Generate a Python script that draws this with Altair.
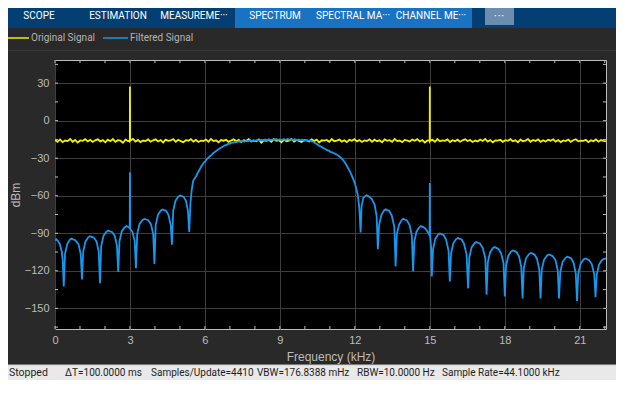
import altair as alt
import numpy as np
import pandas as pd

# ---------------- data ----------------
X_DOMAIN = [0, 22.05]
Y_DOMAIN = [-166.5, 48.5]
x_major = [0, 3, 6, 9, 12, 15, 18, 21]
y_major = [-150, -120, -90, -60, -30, 0, 30]
x_minor = list(range(0, 23))
y_minor = [-165, -150, -135, -120, -105, -90, -75, -60, -45, -30, -15, 0, 15, 30, 45]

# Original signal: noise floor (dBm) sampled across the band
orig_db = [
    -15.6, -16.9, -15.0, -17.2, -15.9, -16.3, -14.6, -16.8, -15.4, -17.5, -15.8, -16.1, -14.8, -16.6, -15.3, -17.0, -15.7, -14.9, -16.5, -15.5,
    -17.3, -15.2, -16.4, -14.7, -16.9, -15.6, -16.0, -17.6, -15.1, -16.2, -15.8, -14.5, -16.7, -15.4, -17.1, -15.9, -16.3, -15.0, -16.8, -15.7,
    -14.9, -16.6, -15.5, -17.4, -15.2, -16.1, -15.8, -14.7, -16.9, -15.3, -16.4, -17.2, -15.6, -16.0, -14.8, -16.7, -15.4, -17.0, -15.9, -16.2,
    -15.1, -16.8, -14.6, -16.3, -15.7, -17.3, -15.5, -16.0, -15.2, -16.9, -15.8, -14.9, -16.5, -15.4, -17.1, -15.6, -16.2, -14.7, -16.6, -15.9,
    -16.4, -15.0, -17.5, -15.7, -16.1, -15.3, -16.8, -14.8, -16.0, -15.6, -17.2, -15.1, -16.5, -15.9, -14.6, -16.7, -15.4, -16.2, -17.0, -15.5,
    -15.8, -16.6, -14.9, -16.3, -15.2, -17.4, -15.7, -16.0, -15.4, -16.9, -14.7, -16.4, -15.9, -15.1, -16.7, -15.6, -17.1, -15.3, -16.1, -14.8,
    -16.5, -15.5, -17.0, -15.8, -16.2, -14.9, -16.8, -15.2, -16.4, -15.7, -17.3, -15.0, -16.1, -15.6, -16.9, -14.6, -16.3, -15.9, -17.2, -15.4,
    -15.9, -16.7, -15.1, -16.0, -14.8, -16.6, -15.5, -17.4, -15.8, -16.2, -15.3, -16.9, -14.7, -16.5, -15.7, -16.1, -15.0, -17.1, -15.6, -16.4,
    -15.2, -16.8, -15.7, -14.9, -16.3, -15.4, -17.0, -15.9, -16.6, -15.1, -16.2, -14.6, -16.7, -15.5, -17.3, -15.8, -16.0, -15.3, -16.9, -15.6,
    -16.1, -14.8, -16.5, -15.7, -17.2, -15.2, -16.4, -15.9, -14.7, -16.8, -15.4, -16.2, -15.0, -17.0, -15.6, -16.6, -15.3, -16.0, -14.9, -16.7,
    -15.5, -17.1, -15.8, -16.3, -15.1, -16.9, -15.6, -14.8, -16.5, -15.9, -16.1, -15.3, -17.2, -15.7, -16.4, -15.0, -16.8, -15.5, -16.2, -16.6,
]
tone_f = [2.995, 3.0, 3.005, 14.995, 15.0, 15.005]
tone_db = [-16.0, 27.4, -16.2, -15.9, 27.4, -16.1]

# Filtered signal: (frequency kHz, dBm)
filt_f = [
    0.00, 0.05, 0.11, 0.19, 0.27, 0.31, 0.35,
    0.40, 0.49, 0.60, 0.66, 0.72, 0.80, 0.94, 1.03, 1.08,
    1.13, 1.22, 1.33, 1.40, 1.47, 1.55, 1.66, 1.75, 1.80,
    1.85, 1.94, 2.05, 2.13, 2.20, 2.28, 2.39, 2.48, 2.53,
    2.58, 2.67, 2.78, 2.86, 2.93, 2.99, 3.00, 3.01, 3.10, 3.19, 3.24,
    3.29, 3.38, 3.50, 3.58, 3.65, 3.73, 3.84, 3.93, 3.98,
    4.03, 4.12, 4.23, 4.30, 4.37, 4.44, 4.54, 4.63, 4.68,
    4.73, 4.82, 4.93, 5.01, 5.08, 5.15, 5.24, 5.32, 5.37,
    5.42, 5.47, 5.53, 5.60, 5.67, 5.73, 5.80, 5.87, 5.93, 6.00, 6.07, 6.13, 6.20, 6.27, 6.33, 6.40,
    6.47, 6.53, 6.60, 6.67, 6.73, 6.80, 6.87, 6.93, 7.00, 7.07, 7.13, 7.20, 7.27, 7.35, 7.42, 7.50,
    7.58, 7.65, 7.72,
    7.80, 7.88, 7.95, 8.03, 8.10, 8.18, 8.25, 8.33, 8.40, 8.48, 8.55, 8.63, 8.70, 8.78, 8.85, 8.93,
    9.00, 9.08, 9.15, 9.23, 9.30, 9.38, 9.45, 9.53, 9.60, 9.68, 9.75, 9.83, 9.90, 9.98, 10.05, 10.13,
    10.20, 10.28, 10.35, 10.42, 10.50, 10.58, 10.65, 10.73, 10.80, 10.87, 10.95, 11.02, 11.10, 11.17,
    11.25, 11.33, 11.40, 11.47, 11.53, 11.60, 11.67, 11.73, 11.80, 11.87, 11.93, 12.00, 12.06, 12.12,
    12.18, 12.23,
    12.27, 12.34, 12.42, 12.48, 12.55, 12.67, 12.79, 12.87, 12.92,
    12.97, 13.06, 13.17, 13.23, 13.30, 13.38, 13.48, 13.58, 13.63,
    13.68, 13.77, 13.88, 13.94, 14.00, 14.08, 14.19, 14.28, 14.33,
    14.38, 14.47, 14.58, 14.64, 14.71, 14.79, 14.89, 14.99, 15.00, 15.01, 15.05, 15.08,
    15.13, 15.22, 15.33, 15.40, 15.47, 15.55, 15.65, 15.75, 15.80,
    15.85, 15.94, 16.05, 16.12, 16.19, 16.27, 16.37, 16.47, 16.53,
    16.58, 16.67, 16.79, 16.86, 16.93, 17.01, 17.12, 17.22, 17.27,
    17.32, 17.41, 17.52, 17.59, 17.66, 17.74, 17.85, 17.95, 18.00,
    18.05, 18.14, 18.25, 18.32, 18.39, 18.47, 18.57, 18.66, 18.71,
    18.76, 18.85, 18.97, 19.04, 19.11, 19.19, 19.29, 19.38, 19.43,
    19.48, 19.57, 19.69, 19.76, 19.83, 19.91, 20.03, 20.12, 20.17,
    20.22, 20.31, 20.43, 20.50, 20.57, 20.65, 20.75, 20.84, 20.89,
    20.94, 21.03, 21.15, 21.22, 21.29, 21.37, 21.48, 21.58, 21.63,
    21.68, 21.77, 21.88, 21.96, 22.05,
]
filt_db = [
    -95.5, -94.8, -96.0, -98.5, -104.5, -112.0, -132.5,
    -106.6, -98.6, -95.0, -94.2, -94.8, -95.3, -98.6, -106.6, -127.0,
    -104.5, -96.5, -93.2, -92.3, -92.8, -93.4, -96.5, -104.5, -130.0,
    -100.0, -92.0, -88.9, -87.8, -88.4, -88.9, -92.0, -100.0, -121.0,
    -96.5, -88.5, -85.3, -84.3, -85.0, -85.8, -41.3, -86.5, -88.8, -96.5, -118.0,
    -90.7, -82.7, -79.4, -78.5, -79.0, -79.6, -82.7, -90.7, -114.5,
    -83.2, -75.2, -71.9, -71.0, -71.5, -72.0, -75.2, -83.2, -99.2,
    -72.0, -64.0, -60.7, -59.8, -60.3, -60.9, -64.0, -72.0, -89.0,
    -66.0, -55.5, -48.0, -45.8, -43.6, -41.0, -38.6, -36.0, -34.2, -32.8, -31.0, -29.8, -28.4, -27.3, -26.0, -24.9,
    -23.8, -23.1, -22.0, -21.3, -20.6, -19.7, -19.3, -18.6, -18.3, -17.6, -17.5, -16.9, -17.1, -16.5, -16.8, -16.2,
    -16.7, -16.0, -16.5,
    -15.8, -16.3, -15.6, -16.1, -15.4, -15.9, -15.2, -15.8, -15.1, -15.6, -14.9, -15.5, -15.0, -15.6, -14.7, -15.3,
    -14.9, -15.5, -14.8, -15.4, -14.6, -15.2, -14.8, -15.5, -14.9, -15.6, -15.1, -15.7, -15.2, -15.9, -15.4, -16.1,
    -15.8, -16.6, -17.0, -18.0, -19.0, -20.1, -20.6, -21.8, -22.4, -23.4, -23.9, -24.9, -25.3, -26.2,
    -26.8, -27.9, -28.9, -30.2, -31.5, -33.5, -35.8, -38.0, -40.5, -43.5, -46.5, -50.0, -54.5, -60.0,
    -70.0, -89.4,
    -68.0, -61.5, -60.2, -59.6, -60.4, -62.5, -67.0, -76.0, -102.7,
    -83.0, -75.5, -71.7, -70.9, -71.5, -72.2, -76.0, -85.0, -116.5,
    -90.5, -83.0, -79.3, -78.4, -79.0, -79.7, -83.5, -92.0, -120.5,
    -96.5, -88.5, -85.2, -84.3, -84.9, -85.6, -88.2, -91.5, -49.9, -92.5, -101.0, -124.5,
    -102.5, -94.5, -91.0, -90.1, -90.7, -91.4, -95.0, -104.0, -128.5,
    -106.0, -98.0, -94.6, -93.7, -94.3, -95.0, -98.5, -107.0, -134.0,
    -109.3, -101.3, -97.9, -97.0, -97.6, -98.3, -101.8, -110.0, -139.0,
    -113.3, -105.3, -101.9, -101.0, -101.6, -102.3, -105.8, -114.0, -140.5,
    -116.0, -108.0, -104.6, -103.7, -104.3, -105.0, -108.5, -117.0, -142.0,
    -118.0, -110.0, -106.6, -105.7, -106.3, -107.0, -110.5, -119.0, -142.0,
    -119.0, -111.2, -107.7, -106.9, -107.5, -108.2, -111.5, -120.0, -142.0,
    -121.0, -113.0, -109.6, -108.7, -109.3, -110.0, -113.3, -122.0, -144.0,
    -122.4, -114.4, -110.9, -110.1, -110.7, -111.4, -114.6, -123.0, -141.0,
    -123.0, -115.0, -111.5, -110.4, -110.2,
]

toolbar_tabs = ["SCOPE", "ESTIMATION", "MEASUREME\u00b7\u00b7\u00b7", "SPECTRUM",
                "SPECTRAL MA\u00b7\u00b7\u00b7", "CHANNEL ME\u00b7\u00b7\u00b7"]
legend_labels = ["Original Signal", "Filtered Signal"]
status_left = "Stopped"
status_items = ["\u0394T=100.0000 ms", "Samples/Update=4410", "VBW=176.8388 mHz",
                "RBW=10.0000 Hz", "Sample Rate=44.1000 kHz"]

# ---------------- build tables ----------------
orig_f = np.linspace(X_DOMAIN[0], X_DOMAIN[1], len(orig_db))
orig = pd.DataFrame({"f": list(orig_f) + tone_f, "db": orig_db + tone_db}).sort_values("f")
filt = pd.DataFrame({"f": filt_f, "db": filt_db})

W, H = 551, 269
YELLOW = "#f2f200"
BLUE = "#1797ee"
AXC = "#bdbdbd"
TXT = "#bcbcbc"
GRID = "#3e3e3e"
FONT = "Liberation Sans"
UIFONT = "Roboto"

XS = alt.Scale(domain=X_DOMAIN, nice=False, zero=False)
YS = alt.Scale(domain=Y_DOMAIN, nice=False, zero=False)

x_axis = alt.Axis(values=x_major, grid=True, gridColor=GRID, gridOpacity=1, ticks=False, domain=False,
                  labelColor=TXT, labelFont=FONT, labelFontSize=11, labelPadding=5,
                  labelFlush=False, labelOverlap=False, format="d",
                  title="Frequency (kHz)", titleColor=TXT, titleFont=FONT,
                  titleFontSize=12, titleFontWeight="normal", titlePadding=6)
y_axis = alt.Axis(values=y_major, grid=True, gridColor=GRID, gridOpacity=1, ticks=False, domain=False,
                  labelColor=TXT, labelFont=FONT, labelFontSize=11, labelPadding=6,
                  labelFlush=False, labelOverlap=False, format="d",
                  title="dBm", titleColor=TXT, titleFont=FONT,
                  titleFontSize=12, titleFontWeight="normal", titlePadding=2)

one = pd.DataFrame({"k": [0]})

def rect(x, x2, y, y2, color):
    return alt.Chart(one).mark_rect(color=color, clip=False).encode(
        x=alt.value(x), x2=alt.value(x2), y=alt.value(y), y2=alt.value(y2))

def seg(x, x2, y, color, w=1.0):
    return alt.Chart(one).mark_rule(color=color, strokeWidth=w, clip=False).encode(
        x=alt.value(x), x2=alt.value(x2), y=alt.value(y))

def label(x, y, s, color, size, font, align="left"):
    return alt.Chart(one).mark_text(color=color, fontSize=size, font=font, align=align,
                                    baseline="middle", clip=False).encode(
        x=alt.value(x), y=alt.value(y), text=alt.value(s))

XF = lambda fld: alt.X(fld, scale=XS, axis=x_axis)
YF = lambda fld: alt.Y(fld, scale=YS, axis=y_axis)

yellow = alt.Chart(orig).mark_line(color=YELLOW, strokeWidth=1.8, clip=True).encode(
    x=XF("f:Q"), y=YF("db:Q"), order="f:Q")
blue = alt.Chart(filt).mark_line(color=BLUE, strokeWidth=1.8, clip=True).encode(
    x=XF("f:Q"), y=YF("db:Q"), order="f:Q")

xt = pd.DataFrame({"t": x_minor})
yt = pd.DataFrame({"t": y_minor})
tick_b = alt.Chart(xt).mark_rule(color=AXC).encode(
    x=XF("t:Q"), y=alt.value(H), y2=alt.value(H - 3))
tick_t = alt.Chart(xt).mark_rule(color=AXC).encode(
    x=XF("t:Q"), y=alt.value(0), y2=alt.value(3))
tick_l = alt.Chart(yt).mark_rule(color=AXC).encode(
    y=YF("t:Q"), x=alt.value(0), x2=alt.value(3))
tick_r = alt.Chart(yt).mark_rule(color=AXC).encode(
    y=YF("t:Q"), x=alt.value(W), x2=alt.value(W - 3))

# ---- window chrome (plot-relative pixel positions) ----
chrome = [
    rect(-47, 570, -52, -32, "#043f74"),
    rect(180, 417, -52, -32, "#1a72c3"),
    rect(430, 459, -52, -35, "#6d8db0"),
    seg(-47, 570, -9.5, "#363636"),
    rect(-47, 570, 305, 320, "#e9e9e9"),
    seg(-47, 570, 305, "#cfcfcf"),
]
tab_x = [-16, 63, 139, 220, 298, 376]
for tx, s in zip(tab_x, toolbar_tabs):
    chrome.append(label(tx, -44, s, "white", 10, UIFONT, "center"))
chrome.append(label(444, -44, "\u00b7\u00b7\u00b7", "white", 11, FONT, "center"))
chrome += [
    seg(-47, -26, -22, YELLOW, 1.5),
    label(-24, -22, legend_labels[0], "#b4b4b4", 10, UIFONT),
    seg(48, 73, -22, BLUE, 1.5),
    label(75, -22, legend_labels[1], "#b4b4b4", 10, UIFONT),
    label(-46, 313, status_left, "#1e1e1e", 10.5, UIFONT),
]
status_x = [10, 96, 202, 302, 387]
for sx, s in zip(status_x, status_items):
    chrome.append(label(sx, 313, s, "#1e1e1e", 10, UIFONT))

chart = alt.layer(yellow, blue, tick_b, tick_t, tick_l, tick_r, *chrome).properties(
    width=W, height=H,
    autosize=alt.AutoSizeParams(type="none"),
    padding={"left": 47, "top": 52, "right": 10, "bottom": 51},
).configure(background="#292929").configure_view(fill="black", stroke=AXC, strokeWidth=1)

chart.save("out.html", embed_options={"renderer": "svg", "actions": False})
